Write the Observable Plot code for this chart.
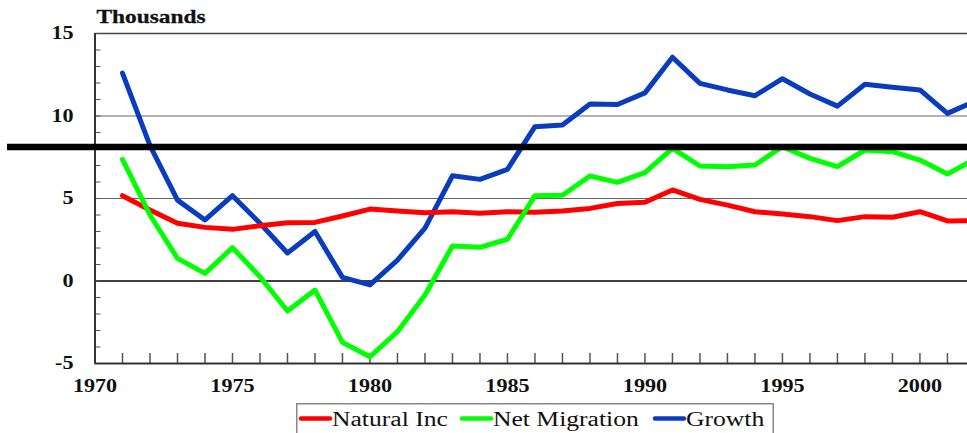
<!DOCTYPE html>
<html>
<head>
<meta charset="utf-8">
<script src="https://cdn.jsdelivr.net/npm/d3@7"></script>
<script src="https://cdn.jsdelivr.net/npm/@observablehq/plot@0.6"></script>
<style>
  body { margin: 0; background: #fff; }
  #wrap { position: relative; width: 967px; height: 433px; overflow: hidden; background: #fff; }
  #wrap svg { display: block; }
  #wrap svg text { font-family: "Liberation Serif", serif; }
  #legend { position: absolute; left: 296px; top: 403px; }
</style>
</head>
<body>
<div id="wrap"></div>
<script>
const years = d3.range(1971, 2003);
const naturalInc = [5.17, 4.3, 3.5, 3.25, 3.13, 3.35, 3.53, 3.55, 3.94, 4.36,
                    4.24, 4.14, 4.2, 4.1, 4.2, 4.16, 4.24, 4.4, 4.7, 4.77,
                    5.52, 4.95, 4.6, 4.2, 4.06, 3.9, 3.66, 3.9, 3.86, 4.2,
                    3.64, 3.65];
const netMigration = [7.37, 4.0, 1.37, 0.46, 2.02, 0.26, -1.82, -0.55, -3.72, -4.59,
                      -3.07, -0.85, 2.12, 2.04, 2.53, 5.17, 5.2, 6.36, 5.98, 6.57,
                      8.04, 6.97, 6.93, 7.03, 8.14, 7.43, 6.93, 7.94, 7.84, 7.33,
                      6.48, 7.4];
const growth = [12.6, 8.2, 4.9, 3.7, 5.17, 3.5, 1.7, 3.0, 0.22, -0.24,
                1.27, 3.2, 6.38, 6.16, 6.77, 9.35, 9.45, 10.73, 10.7, 11.4,
                13.56, 11.98, 11.58, 11.23, 12.26, 11.33, 10.6, 11.92, 11.74, 11.58,
                10.16, 10.9];
const seriesNames = ["Natural Inc", "Net Migration", "Growth"];
const seriesColors = ["#ff0000", "#00ff00", "#0a3cbe"];
const yTicks = [-5, 0, 5, 10, 15];
const xTicks = [1970, 1975, 1980, 1985, 1990, 1995, 2000];
const yMinorTicks = d3.range(-5, 16);
const xMinorTicks = d3.range(1970, 2002);
const refValue = 8.12;
const titleText = "Thousands";

const W = 967, H = 400;
const mL = 94.5, mT = 33, mB = 37, mR = 0;
const frameW = W - mL - mR, frameH = H - mT - mB;
const serifFont = "Liberation Serif";

const table = [];
[naturalInc, netMigration, growth].forEach((vals, s) => {
  vals.forEach((v, i) => table.push({year: years[i], value: v, series: seriesNames[s]}));
});
const bySeries = name => table.filter(d => d.series === name);

const lineOpts = i => ({
  x: "year", y: "value", stroke: seriesColors[i], strokeWidth: 5,
  strokeLinejoin: "round", strokeLinecap: "round", clip: true
});

const plot = Plot.plot({
  width: W, height: H,
  marginLeft: mL, marginTop: mT, marginBottom: mB, marginRight: mR,
  x: {domain: [1970, 2001.73]},
  y: {domain: [-5, 15]},
  style: {fontFamily: serifFont, background: "#fff", color: "#000"},
  marks: [
    Plot.ruleY([5, 10], {stroke: "#666", strokeWidth: 1}),
    Plot.ruleY([15], {stroke: "#444", strokeWidth: 1.5}),
    Plot.ruleY([0], {stroke: "#000", strokeWidth: 1.5}),
    Plot.tickY(yMinorTicks, {y: d => d, stroke: "#555", strokeWidth: 1, insetRight: frameW - 6}),
    Plot.tickX(xMinorTicks, {x: d => d, stroke: "#555", strokeWidth: 1.5, insetTop: frameH - 10}),
    Plot.ruleX([1970], {stroke: "#333", strokeWidth: 2}),
    Plot.ruleY([-5], {stroke: "#333", strokeWidth: 2}),
    Plot.line(bySeries("Growth"), lineOpts(2)),
    Plot.line(bySeries("Natural Inc"), lineOpts(0)),
    Plot.line(bySeries("Net Migration"), lineOpts(1)),
    Plot.ruleY([refValue], {stroke: "#000", strokeWidth: 6.5, insetLeft: -87.5}),
    Plot.axisY({ticks: yTicks, tickSize: 0, tickPadding: 21.5, label: null,
      fontSize: 18, fontWeight: "bold", fill: "#111", stroke: "#111", strokeWidth: 0.3,
      tickFormat: d => String(d)}),
    Plot.axisX({ticks: xTicks, tickSize: 0, tickPadding: 16, label: null,
      fontSize: 18, fontWeight: "bold", fill: "#111", stroke: "#111", strokeWidth: 0.3,
      tickFormat: d => String(d)}),
    Plot.text([titleText], {frameAnchor: "top-left", text: d => d, dx: 1.5, dy: -16.5,
      textAnchor: "start", lineAnchor: "middle", fontSize: 19, fontWeight: "bold",
      fill: "#111", stroke: "#111", strokeWidth: 0.3})
  ]
});

// the reference text is horizontally stretched
d3.select(plot).selectAll("text").each(function() {
  this.style.fontFamily = serifFont;
  const t = this.getAttribute("transform");
  if (t) this.setAttribute("transform", t + " scale(1.23,1)");
});

const wrap = document.getElementById("wrap");
wrap.appendChild(plot);

// legend box below the chart
const lg = d3.select(wrap).append("svg").attr("id", "legend")
  .attr("width", 478).attr("height", 32);
lg.append("rect").attr("x", 0.75).attr("y", 0.75).attr("width", 476.5).attr("height", 40)
  .attr("fill", "#fff").attr("stroke", "#888").attr("stroke-width", 1.5);
const swatchX = [5, 166, 359];
seriesNames.forEach((name, i) => {
  const g = lg.append("g");
  g.append("line").attr("x1", swatchX[i]).attr("x2", swatchX[i] + 29)
    .attr("y1", 15.5).attr("y2", 15.5)
    .attr("stroke", seriesColors[i]).attr("stroke-width", 4.5).attr("stroke-linecap", "round");
  g.append("text").attr("transform", `translate(${swatchX[i] + 31},23) scale(1.25,1)`)
    .style("font-family", serifFont).attr("font-size", 20.5).attr("fill", "#111").text(name);
});
</script>
</body>
</html>
